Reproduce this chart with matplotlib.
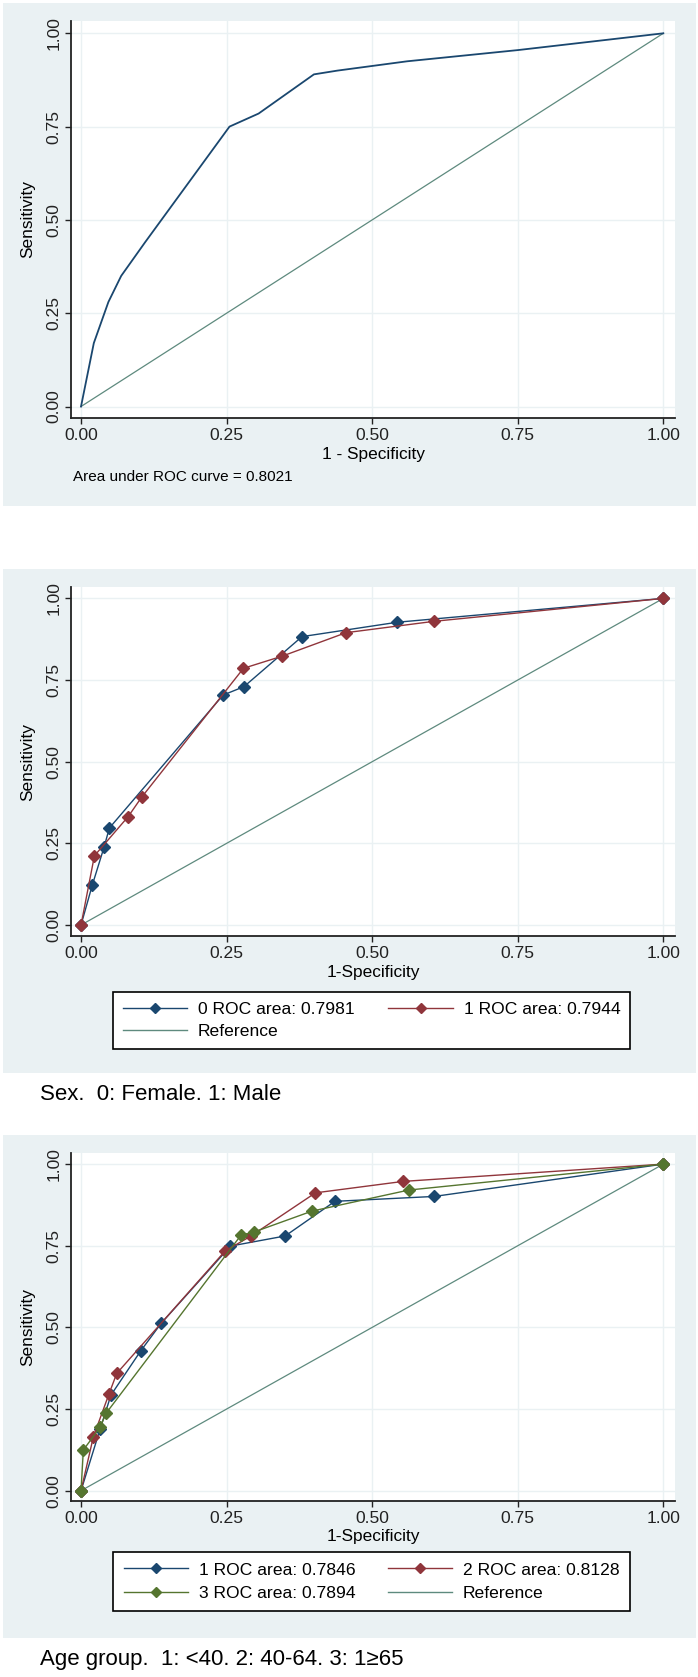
import matplotlib.pyplot as plt
from matplotlib import font_manager
from matplotlib.lines import Line2D
from matplotlib.patches import Rectangle

plt.rcParams['font.family'] = ['Liberation Sans', 'DejaVu Sans']

# ---- data ----
ticks = [0, 0.25, 0.5, 0.75, 1.0]
tick_labels = ["0.00", "0.25", "0.50", "0.75", "1.00"]

# pooled ROC curve
all_fpr = [0, 0.022, 0.047, 0.069, 0.11, 0.255, 0.305, 0.40, 0.44, 0.56, 0.75, 1.0]
all_tpr = [0, 0.17, 0.28, 0.35, 0.44, 0.75, 0.785, 0.89, 0.90, 0.925, 0.955, 1.0]
auc_all = 0.8021

# by sex (0 = female, 1 = male)
sex0_fpr = [0, 0.0195, 0.0395, 0.0487, 0.244, 0.280, 0.3795, 0.543, 1.0]
sex0_tpr = [0, 0.123, 0.238, 0.297, 0.704, 0.730, 0.883, 0.927, 1.0]
sex1_fpr = [0, 0.023, 0.081, 0.104, 0.279, 0.346, 0.455, 0.607, 1.0]
sex1_tpr = [0, 0.212, 0.332, 0.391, 0.786, 0.8235, 0.895, 0.930, 1.0]
sex_auc = [0.7981, 0.7944]

# by age group
age1_fpr = [0, 0.033, 0.0515, 0.1025, 0.1374, 0.2567, 0.3507, 0.436, 0.6066, 1.0]
age1_tpr = [0, 0.19, 0.293, 0.428, 0.512, 0.749, 0.780, 0.886, 0.901, 1.0]
age2_fpr = [0, 0.0212, 0.048, 0.0613, 0.2475, 0.292, 0.4026, 0.553, 1.0]
age2_tpr = [0, 0.165, 0.296, 0.359, 0.734, 0.780, 0.912, 0.947, 1.0]
age3_fpr = [0, 0.004, 0.0326, 0.043, 0.275, 0.297, 0.3965, 0.563, 1.0]
age3_tpr = [0, 0.1246, 0.194, 0.237, 0.783, 0.792, 0.856, 0.9206, 1.0]
age_auc = [0.7846, 0.8128, 0.7894]

# ---- style ----
W, H = 698, 1677
BG = '#EAF1F3'
NAVY, MAROON, GREEN, TEAL = '#1A476F', '#90353B', '#55752F', '#5E8A7E'

# captions use a condensed face when one is available
installed = {f.name for f in font_manager.fontManager.ttflist}
if 'Liberation Sans Narrow' in installed:
    cap_font = dict(family=['Liberation Sans Narrow', 'DejaVu Sans'], fontsize=19)
else:
    cap_font = dict(family=['Liberation Sans', 'DejaVu Sans'], fontsize=16)

fig = plt.figure(figsize=(W / 100, H / 100), dpi=100)


def px_rect(left, top, right, bottom):
    return [left / W, 1 - bottom / H, (right - left) / W, (bottom - top) / H]


# grey graph regions behind each panel
for top, bottom in [(3, 506), (569, 1073), (1135, 1638)]:
    x0, y0, w, h = px_rect(3, top, 696, bottom)
    fig.patches.append(Rectangle((x0, y0), w, h, transform=fig.transFigure,
                                 facecolor=BG, edgecolor='none', zorder=-10))


def setup(rect, ylim, xlabel, xlab_off):
    ax = fig.add_axes(px_rect(*rect))
    ax.set_facecolor('white')
    ax.set_xlim(-0.0172, 1.0201)
    ax.set_ylim(*ylim)
    ax.set_xticks(ticks)
    ax.set_xticklabels(tick_labels)
    ax.set_yticks(ticks)
    ax.set_yticklabels(tick_labels, rotation=90, va='center')
    ax.tick_params(labelsize=12.6, length=4, width=1, pad=3, colors='#222222')
    ax.grid(True, color=BG, lw=1.0)
    ax.set_axisbelow(True)
    for s in ['top', 'right']:
        ax.spines[s].set_visible(False)
    for s in ['left', 'bottom']:
        ax.spines[s].set_linewidth(1.3)
        ax.spines[s].set_color('#222222')
    hpx = rect[3] - rect[1]
    wpx = rect[2] - rect[0]
    ax.set_xlabel(xlabel, fontsize=12.4, va='center')
    ax.xaxis.set_label_coords(0.5, -xlab_off / hpx)
    ax.set_ylabel('Sensitivity', fontsize=12.4, va='center')
    ax.yaxis.set_label_coords(-43 / wpx, 0.5)
    ax.plot([0, 1], [0, 1], color=TEAL, lw=0.9, zorder=2)
    return ax


def add_legend(ax, handles, box, borderpad, spacing):
    x0, y0, w, h = px_rect(*box)
    leg = ax.legend(handles=handles, ncol=2, mode='expand', loc='center',
                    bbox_to_anchor=(x0, y0, w, h), bbox_transform=fig.transFigure,
                    fontsize=12.6, handlelength=3.7, handletextpad=0.6,
                    borderpad=borderpad, labelspacing=spacing, borderaxespad=0,
                    fancybox=False, framealpha=1, edgecolor='black')
    leg.get_frame().set_linewidth(1.2)


mk = dict(marker='D', markersize=6)
lmk = dict(marker='D', markersize=5)

# panel 1: pooled
ax1 = setup((71, 20.7, 675, 418), (-0.0308, 1.0338), '1 - Specificity', 37)
ax1.plot(all_fpr, all_tpr, color=NAVY, lw=1.3, zorder=3)
fig.text(73 / W, 1 - 476.7 / H, f'Area under ROC curve = {auc_all:.4f}',
         fontsize=11, va='center', ha='left')

# panel 2: sex
ax2 = setup((71, 587.3, 675, 936), (-0.0336, 1.034), '1-Specificity', 36)
ax2.plot(sex0_fpr, sex0_tpr, color=NAVY, lw=1.0, zorder=3, **mk)
ax2.plot(sex1_fpr, sex1_tpr, color=MAROON, lw=1.0, zorder=4, **mk)
add_legend(ax2, [
    Line2D([], [], color=NAVY, lw=1.0, label=f'0 ROC area: {sex_auc[0]:.4f}', **lmk),
    Line2D([], [], color=TEAL, lw=1.0, label='Reference'),
    Line2D([], [], color=MAROON, lw=1.0, label=f'1 ROC area: {sex_auc[1]:.4f}', **lmk),
], (113, 992, 630, 1049), 0.55, 0.4)
fig.text(40 / W, 1 - 1094 / H, 'Sex.  0: Female. 1: Male', va='center',
         ha='left', **cap_font)

# panel 3: age group
ax3 = setup((71, 1153, 675, 1501), (-0.0315, 1.034), '1-Specificity', 36)
ax3.plot(age1_fpr, age1_tpr, color=NAVY, lw=1.0, zorder=3, **mk)
ax3.plot(age2_fpr, age2_tpr, color=MAROON, lw=1.0, zorder=4, **mk)
ax3.plot(age3_fpr, age3_tpr, color=GREEN, lw=1.0, zorder=5, **mk)
add_legend(ax3, [
    Line2D([], [], color=NAVY, lw=1.0, label=f'1 ROC area: {age_auc[0]:.4f}', **lmk),
    Line2D([], [], color=GREEN, lw=1.0, label=f'3 ROC area: {age_auc[2]:.4f}', **lmk),
    Line2D([], [], color=MAROON, lw=1.0, label=f'2 ROC area: {age_auc[1]:.4f}', **lmk),
    Line2D([], [], color=TEAL, lw=1.0, label='Reference'),
], (113, 1550, 630, 1613), 0.6, 0.45)
fig.text(40 / W, 1 - 1660 / H, 'Age group.  1: <40. 2: 40-64. 3: 1\u226565',
         va='center', ha='left', **cap_font)

fig.savefig('out.png', dpi=100, facecolor='white')
